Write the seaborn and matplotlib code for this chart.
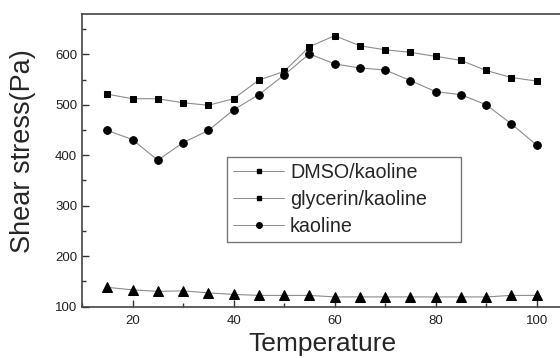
"""Shear stress vs temperature for kaoline suspensions, redrawn with seaborn"""
import matplotlib
matplotlib.use("Agg")
import matplotlib.pyplot as plt
from matplotlib.lines import Line2D
from matplotlib.ticker import MultipleLocator
import seaborn as sns
import pandas as pd

# temperatures of the measurement points
temperature = [15, 20, 25, 30, 35, 40, 45, 50, 55, 60, 65, 70, 75, 80, 85, 90, 95, 100]

# shear stress (Pa) for each suspension
dmso_kaoline = [521, 512, 512, 504, 499, 512, 549, 566, 615, 637, 617, 609, 604,
                596, 588, 568, 554, 547]
kaoline = [449, 431, 390, 425, 449, 490, 520, 559, 601, 581, 573, 569, 548,
           526, 520, 500, 462, 420]
glycerin_kaoline = [138, 133, 130, 131, 127, 124, 122, 122, 122, 119, 119, 119, 119,
                    119, 119, 119, 122, 122]

legend_labels = ["DMSO/kaoline", "glycerin/kaoline", "kaoline"]

sns.set_style("ticks")
plt.rcParams["font.family"] = ["Liberation Sans", "DejaVu Sans"]

fig = plt.figure(figsize=(5.6, 3.58), dpi=100)
ax = fig.add_axes([82 / 560, 51.5 / 358, 480 / 560, 292.5 / 358])

line_kw = dict(color="#8c8c8c", linewidth=0.8, markeredgecolor="black",
               markerfacecolor="black")
# plot each series as a line with markers
for values, marker, size in [(dmso_kaoline, "s", 5), (kaoline, "o", 5.5),
                             (glycerin_kaoline, "^", 6.5)]:
    df = pd.DataFrame({"Temperature": temperature, "stress": values})
    sns.lineplot(data=df, x="Temperature", y="stress", ax=ax, marker=marker,
                 markersize=size, **line_kw)

ax.set_xlim(10, 105)
ax.set_ylim(100, 680)
ax.xaxis.set_major_locator(MultipleLocator(20))
ax.xaxis.set_minor_locator(MultipleLocator(10))
ax.yaxis.set_major_locator(MultipleLocator(100))
ax.yaxis.set_minor_locator(MultipleLocator(50))
ax.tick_params(which="both", direction="in", labelsize=9.5, colors="#333333",
               labelcolor="#222222", width=1)
ax.tick_params(which="major", length=5)
ax.tick_params(which="minor", length=3)
ax.tick_params(axis="x", pad=6)
for side in ["left", "bottom", "top", "right"]:
    ax.spines[side].set_color("#444444")
    ax.spines[side].set_linewidth(1.2)

ax.set_xlabel("Temperature", fontsize=19, labelpad=4)
ax.set_ylabel("Shear stress(Pa)", fontsize=19.5)
ax.yaxis.set_label_coords(-0.096, 0.532)

# legend shows square, square, circle as in the original figure
handles = [Line2D([], [], marker=m, markersize=s, color="#8c8c8c", linewidth=0.7,
                  markeredgecolor="black", markerfacecolor="black")
           for m, s in [("s", 3.5), ("s", 3.5), ("o", 4)]]
leg = ax.legend(handles, legend_labels, loc="lower left",
                bbox_to_anchor=(0.302, 0.2205, 0.4875, 0.29), mode="expand",
                borderaxespad=0, fontsize=14.2, frameon=True, fancybox=False,
                edgecolor="#555555", handlelength=2.6, handletextpad=0.3,
                labelspacing=0.42, borderpad=0.3)
leg.get_frame().set_linewidth(1.0)

fig.savefig("out.png", dpi=100)
